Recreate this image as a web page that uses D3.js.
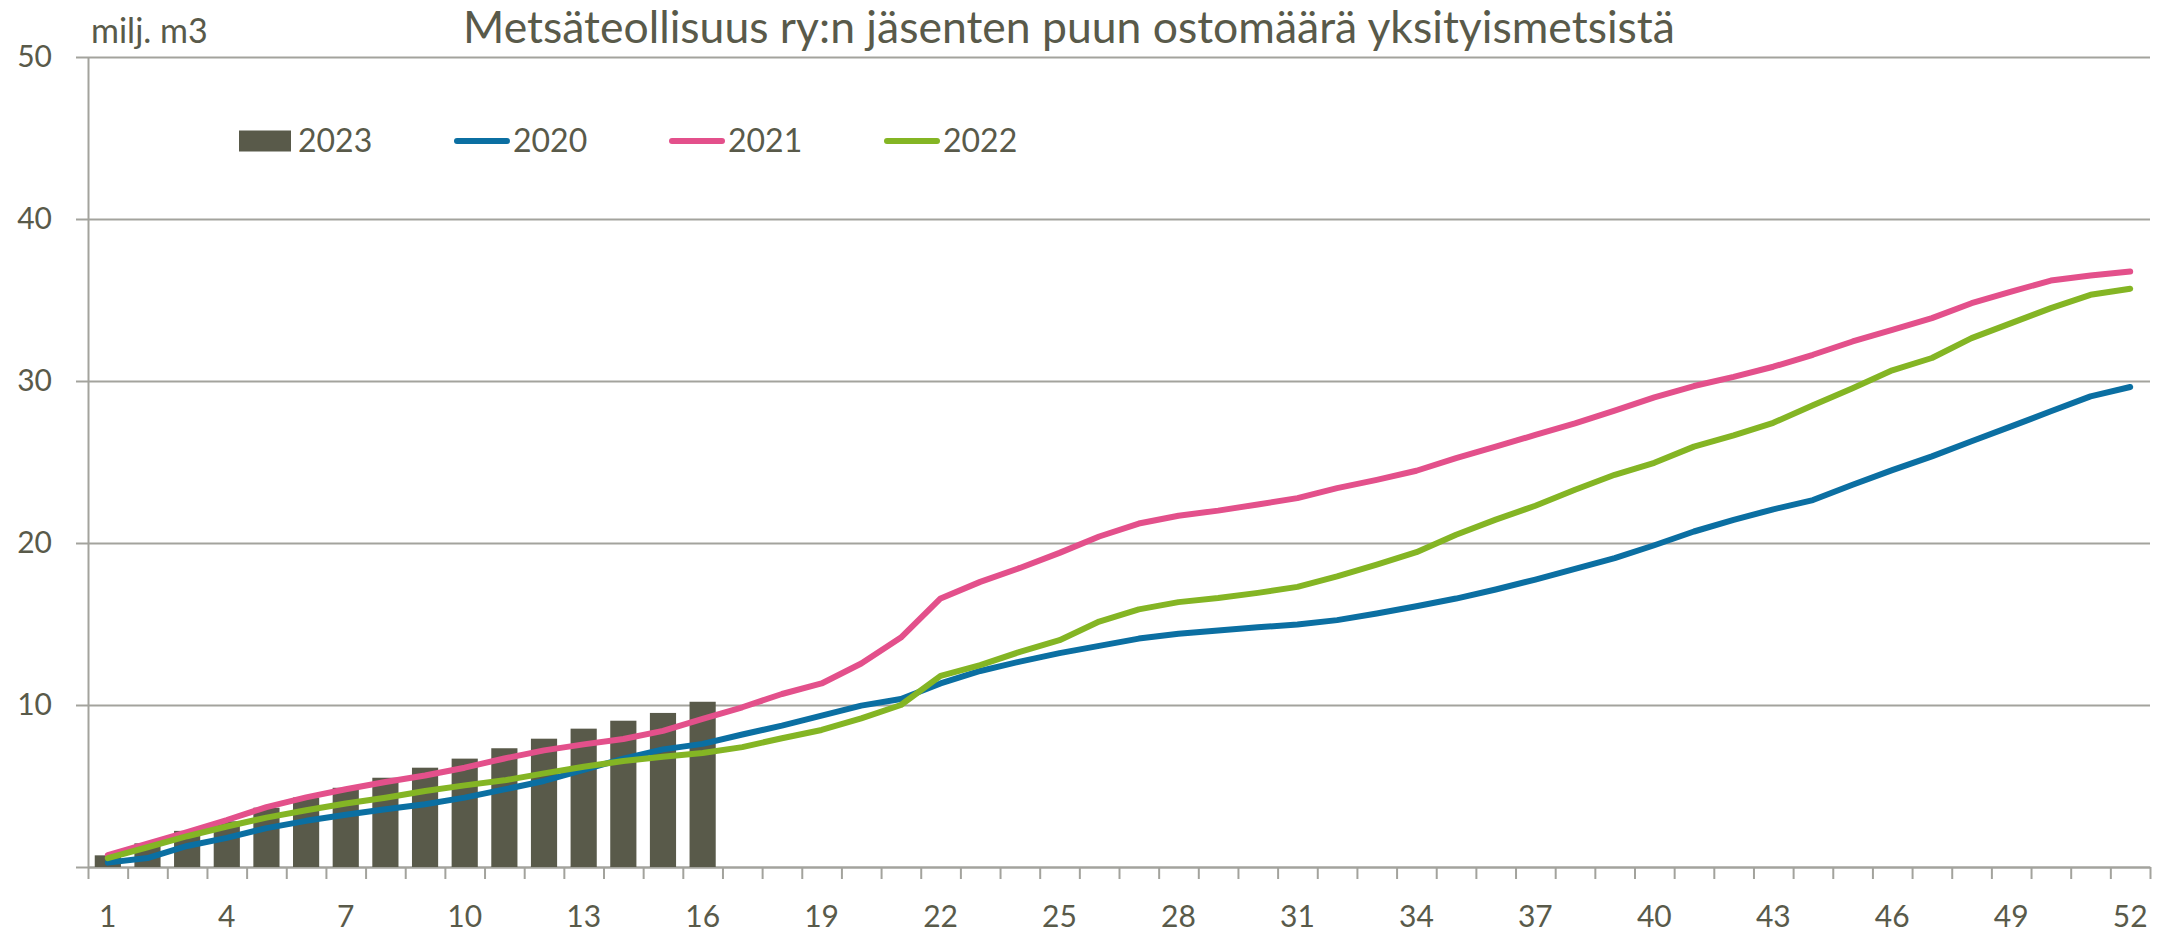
<!DOCTYPE html>
<html lang="fi">
<head>
<meta charset="utf-8">
<title>Puun ostomäärä</title>
<script src="https://cdn.jsdelivr.net/npm/d3@7"></script>
<style>
  body { margin: 0; background: #fff; }
  text { font-family: Lato, "Open Sans", sans-serif; fill: #595a4a; }
</style>
</head>
<body>
<div id="chart"></div>
<script>
// viikot 1..52
const weeks = d3.range(1, 53);
const weekLabels = d3.range(1, 53, 3);
const yTicks = [0, 10, 20, 30, 40, 50];

const bars2023 = [0.72, 1.46, 2.23, 2.82, 3.66, 4.29, 4.89, 5.51, 6.13, 6.69, 7.33, 7.92, 8.54, 9.03, 9.51, 10.2];

const line2020 = [0.27, 0.55, 1.3, 1.8, 2.4, 2.85, 3.22, 3.56, 3.87, 4.28, 4.79, 5.31, 5.99, 6.69, 7.26, 7.6,
  8.18, 8.73, 9.34, 9.96, 10.37, 11.33, 12.1, 12.68, 13.2, 13.65, 14.1, 14.4, 14.6, 14.8, 14.97, 15.24,
  15.65, 16.1, 16.57, 17.13, 17.74, 18.4, 19.07, 19.86, 20.71, 21.43, 22.08, 22.65, 23.6, 24.5, 25.35,
  26.28, 27.2, 28.13, 29.05, 29.63];

const line2021 = [0.74, 1.44, 2.16, 2.9, 3.7, 4.3, 4.8, 5.25, 5.65, 6.13, 6.7, 7.2, 7.57, 7.9, 8.4, 9.14,
  9.86, 10.68, 11.33, 12.56, 14.16, 16.58, 17.6, 18.46, 19.39, 20.4, 21.2, 21.68, 22.0, 22.38, 22.77, 23.39,
  23.9, 24.46, 25.24, 25.95, 26.67, 27.39, 28.17, 28.99, 29.69, 30.25, 30.88, 31.62, 32.44, 33.16, 33.88,
  34.8, 35.52, 36.2, 36.51, 36.76];

const line2022 = [0.55, 1.22, 1.9, 2.5, 3.05, 3.5, 3.92, 4.28, 4.69, 5.04, 5.35, 5.78, 6.19, 6.54, 6.81, 7.04,
  7.4, 7.95, 8.46, 9.18, 10.0, 11.8, 12.46, 13.28, 14.0, 15.15, 15.9, 16.35, 16.6, 16.92, 17.29, 17.94,
  18.67, 19.43, 20.51, 21.44, 22.3, 23.29, 24.21, 24.95, 25.95, 26.65, 27.42, 28.5, 29.55, 30.66, 31.42,
  32.65, 33.57, 34.5, 35.32, 35.69];

const lineSeries = [
  {name: "2020", values: line2020, color: "#0b6fa2"},
  {name: "2021", values: line2021, color: "#e3508b"},
  {name: "2022", values: line2022, color: "#84b524"}
];
const barColor = "#595a4a";
const gridColor = "#a3a39d";

const width = 2173, height = 933;
const plot = {left: 88, right: 2150, top: 57, bottom: 867};

const svg = d3.select("#chart").append("svg")
  .attr("width", width)
  .attr("height", height);

const x = d3.scaleBand()
  .domain(weeks)
  .range([plot.left, plot.right])
  .paddingInner(0.34)
  .paddingOuter(0.17);

const xEdge = d3.scaleLinear()
  .domain([0, weeks.length])
  .range([plot.left, plot.right]);

const y = d3.scaleLinear()
  .domain([0, 50])
  .range([plot.bottom, plot.top]);

// gridlines
svg.append("g")
  .attr("transform", "translate(" + plot.left + ",0)")
  .call(d3.axisLeft(y).tickValues(yTicks).tickSize(-(plot.right - plot.left)).tickFormat(""))
  .call(g => g.select(".domain").remove())
  .call(g => g.selectAll("line").attr("stroke", gridColor).attr("stroke-width", 2));

// y labels + small outer ticks
svg.append("g")
  .attr("transform", "translate(" + plot.left + ",0)")
  .call(d3.axisLeft(y).tickValues(yTicks).tickSize(12).tickSizeOuter(0).tickPadding(24)
    .tickFormat(d => d === 0 ? "" : d))
  .call(g => g.select(".domain").attr("stroke", gridColor).attr("stroke-width", 2))
  .call(g => g.selectAll("line").attr("stroke", gridColor).attr("stroke-width", 2))
  .call(g => g.selectAll("text").attr("font-size", 30).attr("font-family", "Lato").attr("fill", "#595a4a"));

// x ticks between weeks
svg.append("g")
  .attr("transform", "translate(0," + plot.bottom + ")")
  .call(d3.axisBottom(xEdge).tickValues(d3.range(0, weeks.length + 1)).tickSize(12).tickSizeOuter(0).tickFormat(""))
  .call(g => g.select(".domain").attr("stroke", gridColor).attr("stroke-width", 2))
  .call(g => g.selectAll("line").attr("stroke", gridColor).attr("stroke-width", 2));

// x labels
svg.append("g")
  .attr("transform", "translate(0," + plot.bottom + ")")
  .call(d3.axisBottom(x).tickValues(weekLabels).tickSize(0))
  .call(g => g.select(".domain").remove())
  .call(g => g.selectAll("text").attr("y", 60).attr("dy", 0)
    .attr("font-size", 30).attr("font-family", "Lato").attr("fill", "#595a4a"));

// bars 2023
svg.append("g")
  .selectAll("rect")
  .data(bars2023)
  .join("rect")
    .attr("x", (d, i) => x(weeks[i]))
    .attr("y", d => y(d))
    .attr("width", x.bandwidth())
    .attr("height", d => y(0) - y(d))
    .attr("fill", barColor);

// lines
const line = d3.line()
  .x((d, i) => x(weeks[i]) + x.bandwidth() / 2)
  .y(d => y(d));

svg.append("g")
  .selectAll("path")
  .data(lineSeries)
  .join("path")
    .attr("d", d => line(d.values))
    .attr("fill", "none")
    .attr("stroke", d => d.color)
    .attr("stroke-width", 6)
    .attr("stroke-linejoin", "round")
    .attr("stroke-linecap", "round");

// title and unit
svg.append("text")
  .attr("x", 1069)
  .attr("y", 43)
  .attr("text-anchor", "middle")
  .attr("font-size", 44.5)
  .text("Metsäteollisuus ry:n jäsenten puun ostomäärä yksityismetsistä");

svg.append("text")
  .attr("x", 91)
  .attr("y", 43)
  .attr("font-size", 34)
  .text("milj. m3");

// legend
const legendItems = [{name: "2023", type: "bar", color: barColor}]
  .concat(lineSeries.map(s => ({name: s.name, type: "line", color: s.color})));

const legend = svg.append("g")
  .attr("transform", "translate(239,141)");

const item = legend.selectAll("g")
  .data(legendItems)
  .join("g")
    .attr("transform", (d, i) => "translate(" + (i * 215) + ",0)");

item.filter(d => d.type === "bar").append("rect")
  .attr("x", 0).attr("y", -10.5).attr("width", 52).attr("height", 21)
  .attr("fill", d => d.color);

item.filter(d => d.type === "line").append("line")
  .attr("x1", 3).attr("x2", 53).attr("y1", 0).attr("y2", 0)
  .attr("stroke", d => d.color)
  .attr("stroke-width", 6)
  .attr("stroke-linecap", "round");

item.append("text")
  .attr("x", 59)
  .attr("y", 11)
  .attr("font-size", 32)
  .text(d => d.name);
</script>
</body>
</html>
